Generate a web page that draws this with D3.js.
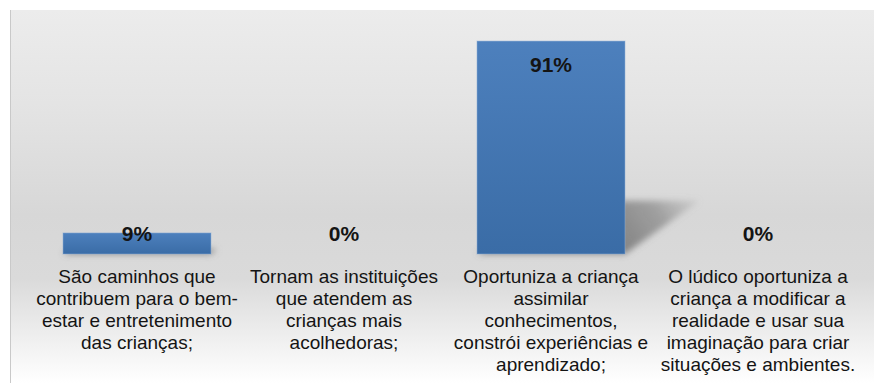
<!DOCTYPE html>
<html>
<head>
<meta charset="utf-8">
<script src="https://cdn.jsdelivr.net/npm/d3@7"></script>
<style>
  html, body { margin: 0; padding: 0; background: #ffffff; }
  svg { display: block; }
</style>
</head>
<body>
<svg id="chart" width="874" height="383"></svg>
<script>
// Category labels, already broken into lines
const categoryLines = [
  ["São caminhos que", "contribuem para o bem-", "estar e entretenimento", "das crianças;"],
  ["Tornam as instituições", "que atendem as", "crianças mais", "acolhedoras;"],
  ["Oportuniza a criança", "assimilar", "conhecimentos,", "constrói experiências e", "aprendizado;"],
  ["O lúdico oportuniza a", "criança a modificar a", "realidade e usar sua", "imaginação para criar", "situações e ambientes."]
];
const categoryIds = ["c1", "c2", "c3", "c4"];
const percentValues = [9, 0, 91, 0];
const valueLabels = ["9%", "0%", "91%", "0%"];

const svg = d3.select("#chart");
const W = 874, H = 383;
const baseY = 254;

const x = d3.scaleBand()
  .domain(categoryIds)
  .range([33.5, 861.5])
  .paddingInner(0.285)
  .paddingOuter(0.1425);

const y = d3.scaleLinear().domain([0, 100]).range([baseY, 20]);

const defs = svg.append("defs");

// plot background: soft grey that fades to white at the bottom
const bg = defs.append("linearGradient")
  .attr("id", "bgGrad").attr("x1", 0).attr("y1", 0).attr("x2", 0).attr("y2", 1);
[[0, "#ececec"], [0.25, "#e4e4e4"], [0.55, "#d7d7d7"], [0.72, "#dadada"], [0.88, "#efefef"], [1, "#ffffff"]]
  .forEach(([o, c]) => bg.append("stop").attr("offset", o).attr("stop-color", c));

const barGrad = defs.append("linearGradient")
  .attr("id", "barGrad").attr("x1", 0).attr("y1", 0).attr("x2", 0).attr("y2", 1);
barGrad.append("stop").attr("offset", 0).attr("stop-color", "#4d80bd");
barGrad.append("stop").attr("offset", 1).attr("stop-color", "#3a6ca6");

defs.append("filter").attr("id", "soft")
  .attr("filterUnits", "userSpaceOnUse")
  .attr("x", 0).attr("y", 0).attr("width", W).attr("height", H)
  .append("feGaussianBlur").attr("stdDeviation", 3);

svg.append("rect")
  .attr("x", 10).attr("y", 10).attr("width", W - 10).attr("height", H - 10)
  .attr("fill", "url(#bgGrad)");
svg.append("line")
  .attr("x1", 10.5).attr("x2", 10.5).attr("y1", 10).attr("y2", H)
  .attr("stroke", "#c9c9c9").attr("stroke-width", 1);

const data = categoryIds.map((id, i) => ({
  id, value: percentValues[i], label: valueLabels[i], lines: categoryLines[i]
}));
const shown = data.filter(d => d.value > 0);

// perspective shadow geometry, cast up and to the right of each bar
function shadowGeom(d) {
  const x0 = x(d.id), x1 = x0 + x.bandwidth();
  const h = baseY - y(d.value);
  return { x0, x1, dx: h * 0.35, dy: h * 0.25 };
}

defs.selectAll("linearGradient.sh")
  .data(shown)
  .join("linearGradient")
  .attr("class", "sh")
  .attr("id", d => "sh-" + d.id)
  .attr("gradientUnits", "userSpaceOnUse")
  .attr("x1", d => shadowGeom(d).x1).attr("y1", baseY)
  .attr("x2", d => { const g = shadowGeom(d); return g.x1 + g.dx; })
  .attr("y2", d => baseY - shadowGeom(d).dy)
  .call(g => {
    g.append("stop").attr("offset", 0).attr("stop-color", "#6e6e6e").attr("stop-opacity", 0.8);
    g.append("stop").attr("offset", 0.55).attr("stop-color", "#7a7a7a").attr("stop-opacity", 0.6);
    g.append("stop").attr("offset", 1).attr("stop-color", "#9a9a9a").attr("stop-opacity", 0.2);
  });

svg.append("g").attr("filter", "url(#soft)").selectAll("path")
  .data(shown)
  .join("path")
  .attr("d", d => {
    const g = shadowGeom(d);
    return `M${g.x0},${baseY}L${g.x1},${baseY}L${g.x1 + g.dx},${baseY - g.dy}L${g.x0 + g.dx},${baseY - g.dy}Z`;
  })
  .attr("fill", d => `url(#sh-${d.id})`);

// bars
svg.append("g").selectAll("rect")
  .data(shown)
  .join("rect")
  .attr("x", d => x(d.id))
  .attr("y", d => y(d.value))
  .attr("width", x.bandwidth())
  .attr("height", d => baseY - y(d.value))
  .attr("fill", "url(#barGrad)")
  .attr("stroke", "#8fb0d8").attr("stroke-opacity", 0.5).attr("stroke-width", 1);

// value labels
svg.append("g").selectAll("text")
  .data(data)
  .join("text")
  .attr("x", d => x(d.id) + x.bandwidth() / 2)
  .attr("y", d => Math.min(y(d.value) + 30.5, baseY - 13))
  .attr("text-anchor", "middle")
  .attr("font-family", "'Liberation Sans', Arial, sans-serif")
  .attr("font-weight", "bold")
  .attr("font-size", 21)
  .attr("fill", "#141414")
  .text(d => d.label);

// category labels
const cat = svg.append("g").selectAll("text")
  .data(data)
  .join("text")
  .attr("text-anchor", "middle")
  .attr("font-family", "'Liberation Sans', Arial, sans-serif")
  .attr("font-size", 19)
  .attr("fill", "#141414");
cat.selectAll("tspan")
  .data(d => d.lines.map((t, j) => ({ t, j, cx: x(d.id) + x.bandwidth() / 2 })))
  .join("tspan")
  .attr("x", d => d.cx)
  .attr("y", d => 283 + d.j * 22)
  .text(d => d.t);
</script>
</body>
</html>
